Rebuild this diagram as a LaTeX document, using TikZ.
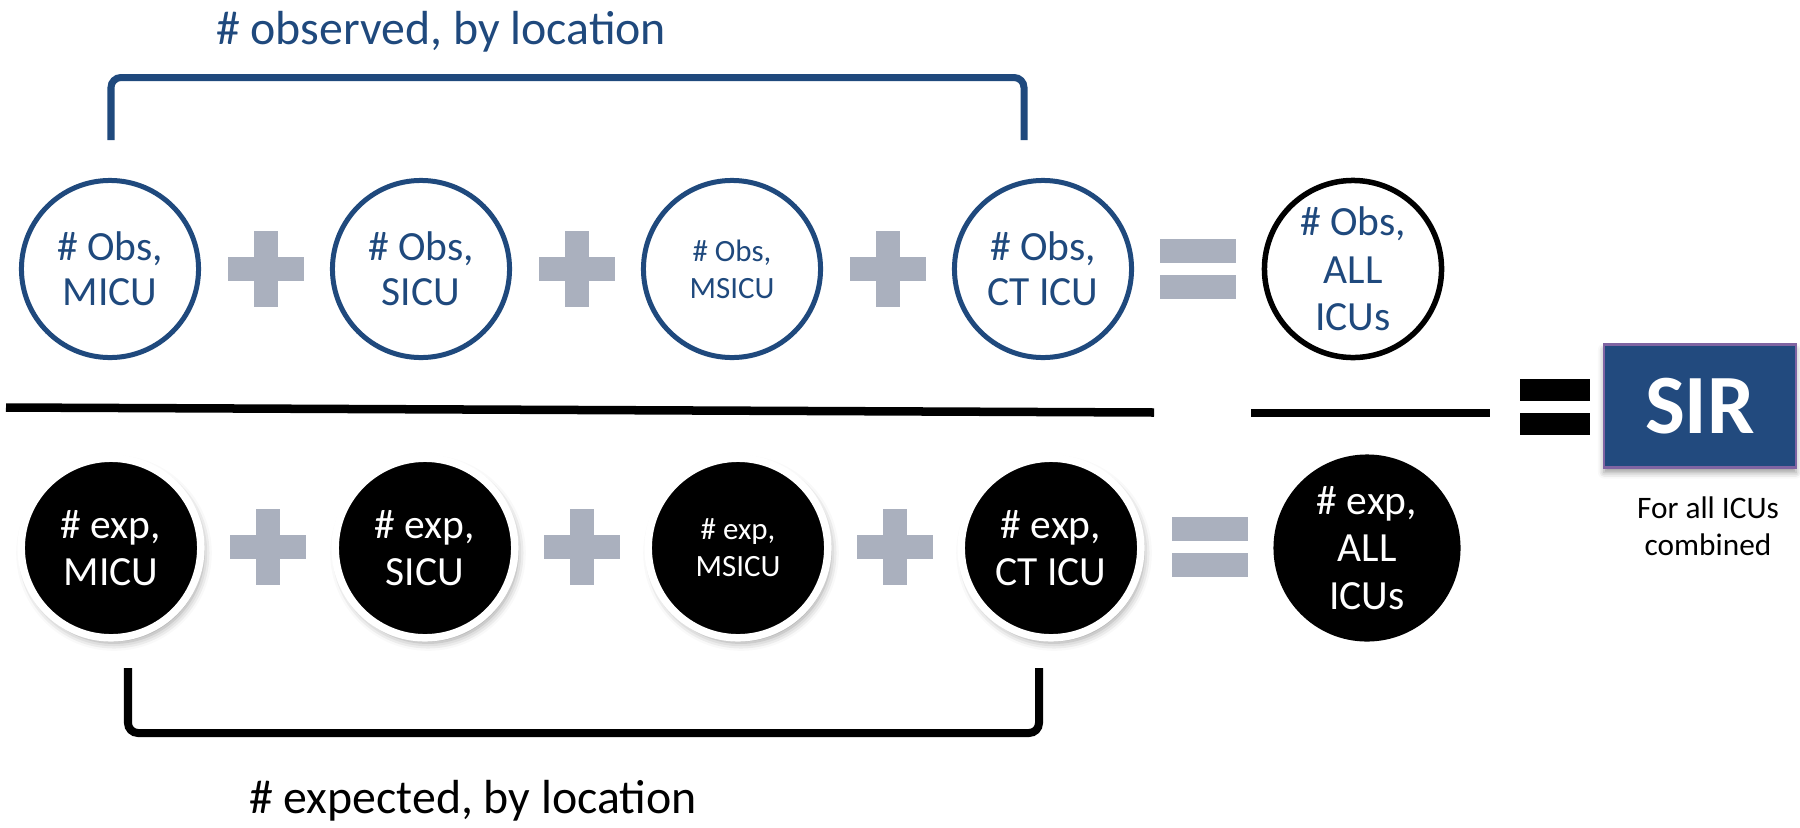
\documentclass[tikz,border=0pt]{standalone}
\usepackage{fontspec}
\setmainfont{Carlito}
\usetikzlibrary{shadows.blur}

\definecolor{obsblue}{RGB}{31,73,125}
\definecolor{opgray}{RGB}{170,176,190}
\definecolor{sirblue}{RGB}{34,74,126}
\definecolor{sirline}{RGB}{128,100,162}

\tikzset{
  plussign/.pic={\path[pic actions] (-38,-12) rectangle (38,12); \path[pic actions] (-12,-38) rectangle (12,38);},
  equalsign/.pic={\path[pic actions] (-38,-30) rectangle (38,-6); \path[pic actions] (-38,6) rectangle (38,30);}
}

\begin{document}
\begin{tikzpicture}[x=0.01cm,y=-0.01cm,
    obs node/.style={circle,draw=obsblue,line width=0.5mm,minimum size=17.7mm,inner sep=0pt,align=center,text=obsblue,font=\fontsize{11.8}{12.8}\selectfont},
    exp node/.style={circle,fill=black,draw=white,line width=0.75mm,minimum size=17.95mm,inner sep=0pt,align=center,text=white,font=\fontsize{11.8}{13.5}\selectfont,
      blur shadow={shadow xshift=0.3mm,shadow yshift=-0.5mm,shadow blur radius=0.8mm,shadow opacity=40}},
    small text/.style={font=\fontsize{8.8}{10.5}\selectfont},
    three lines/.style={font=\fontsize{11.8}{13.5}\selectfont},
    title/.style={anchor=base,inner sep=0pt,font=\fontsize{13.6}{16}\selectfont},
    bar/.style={line width=0.85mm}]
    \useasboundingbox (0,0) rectangle (1800,827);

    % observed, top row
    \node[title,text=obsblue] (obstitle) at (441,44) {\# observed, by location};
    \node[obs node] (o1) at (110,269) {\# Obs,\\MICU};
    \node[obs node] (o2) at (421,269) {\# Obs,\\SICU};
    \node[obs node,small text] (o3) at (732,269) {\# Obs,\\MSICU};
    \node[obs node] (o4) at (1043,269) {\# Obs,\\CT ICU};
    \node[obs node,three lines,draw=black,line width=0.55mm] (o5) at (1353,269) {\# Obs,\\ALL\\ICUs};
    \pic[fill=opgray] at (266,269) {plussign};
    \pic[fill=opgray] at (577,269) {plussign};
    \pic[fill=opgray] at (888,269) {plussign};
    \pic[fill=opgray] at (1198,269) {equalsign};

    \coordinate (obsL) at (111,140);
    \coordinate (obsR) at (1024,140);
    \draw[obsblue,line width=0.7mm,rounded corners=1mm] (obsL) -- ++(0,-62.5) -| (obsR);

    % expected, bottom row
    \node[exp node] (e1) at (111,548) {\# exp,\\MICU};
    \node[exp node] (e2) at (425,548) {\# exp,\\SICU};
    \node[exp node,small text] (e3) at (738,548) {\# exp,\\MSICU};
    \node[exp node] (e4) at (1051,548) {\# exp,\\CT ICU};
    \node[circle,fill=black,minimum size=18.7mm,inner sep=0pt,align=center,text=white,three lines] (e5) at (1367,548) {\# exp,\\ALL\\ICUs};
    \pic[fill=opgray] at (268,547) {plussign};
    \pic[fill=opgray] at (582,547) {plussign};
    \pic[fill=opgray] at (895,547) {plussign};
    \pic[fill=opgray] at (1210,547) {equalsign};

    \coordinate (expL) at (128,668);
    \coordinate (expR) at (1039,668);
    \draw[line width=0.8mm,rounded corners=1mm] (expL) -- ++(0,65) -| (expR);
    \node[title] (exptitle) at (473,813) {\# expected, by location};

    % fraction bars and result
    \coordinate (divA) at (6,407.5);
    \coordinate (divB) at (1154,412.5);
    \coordinate (divC) at (1251,413);
    \coordinate (divD) at (1490,413);
    \draw[bar] (divA) -- (divB);
    \draw[bar] (divC) -- (divD);
    \pic[fill=black,scale=0.92] at (1555,407) {equalsign};

    \node[fill=sirblue,draw=sirline,line width=0.25mm,minimum width=19.2mm,minimum height=12.3mm,text=white,font=\bfseries\fontsize{24}{24}\selectfont,
      blur shadow={shadow xshift=0mm,shadow yshift=-0.5mm,shadow blur radius=0.6mm,shadow opacity=40}] (sir) at (1700,406) {SIR};
    \node[anchor=north,align=center,inner sep=0pt,font=\fontsize{8.9}{10.5}\selectfont] (note) at (1708,496) {For all ICUs\\combined};
\end{tikzpicture}
\end{document}
